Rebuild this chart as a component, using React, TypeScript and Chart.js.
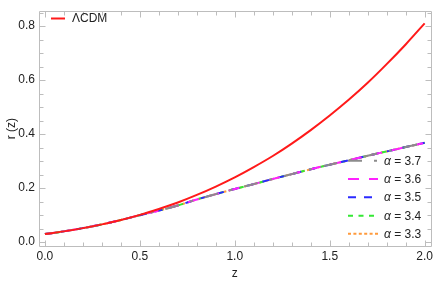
import React, { useEffect, useRef } from 'react';
import { Chart, registerables } from 'chart.js';

Chart.register(...registerables);

const zValues = [0.0, 0.1, 0.2, 0.3, 0.4, 0.5, 0.6, 0.7, 0.8, 0.9, 1.0, 1.1, 1.2, 1.3, 1.4, 1.5, 1.6, 1.7, 1.8, 1.9, 2.0];
const lcdm = [0.030, 0.040, 0.052, 0.066, 0.082, 0.101, 0.123, 0.147, 0.175, 0.206, 0.240, 0.278, 0.319, 0.365, 0.415, 0.469, 0.527, 0.590, 0.659, 0.732, 0.810];
const alpha37 = [0.030, 0.040, 0.052, 0.066, 0.082, 0.100, 0.117, 0.136, 0.158, 0.178, 0.197, 0.215, 0.234, 0.252, 0.270, 0.287, 0.303, 0.320, 0.336, 0.352, 0.368];
const alpha36 = [0.030, 0.040, 0.052, 0.066, 0.082, 0.100, 0.117, 0.136, 0.158, 0.178, 0.197, 0.215, 0.234, 0.252, 0.270, 0.287, 0.303, 0.320, 0.336, 0.352, 0.368];
const alpha35 = [0.030, 0.040, 0.052, 0.066, 0.082, 0.100, 0.117, 0.136, 0.158, 0.178, 0.197, 0.215, 0.234, 0.252, 0.270, 0.287, 0.303, 0.320, 0.336, 0.352, 0.368];
const alpha34 = [0.030, 0.040, 0.052, 0.066, 0.082, 0.100, 0.117, 0.136, 0.158, 0.178, 0.197, 0.215, 0.234, 0.252, 0.270, 0.287, 0.303, 0.320, 0.336, 0.352, 0.368];
const alpha33 = [0.030, 0.040, 0.052, 0.066, 0.082, 0.100, 0.117, 0.136, 0.158, 0.178, 0.197, 0.215, 0.234, 0.252, 0.270, 0.287, 0.303, 0.320, 0.336, 0.352, 0.368];

const xTicks = [0, 0.5, 1.0, 1.5, 2.0];
const yTicks = [0.0, 0.2, 0.4, 0.6, 0.8];
const xMinorStep = 0.1;
const yMinorStep = 0.05;

const lcdmLabel = 'ΛCDM';
const alphaValues = ['3.7', '3.6', '3.5', '3.4', '3.3'];
const alphaSeries = [alpha37, alpha36, alpha35, alpha34, alpha33];
const alphaColors = ['#8c8c8c', '#ff22ff', '#2b2bff', '#33e833', '#ff9a3c'];
const alphaDashes = [[14, 12, 3, 12], [11, 10], [8, 8], [5, 5.5], [3, 2.4]];

const FONT = '"Liberation Sans", Arial, sans-serif';
const TEXT = '#222222';
const FRAME = '#bdbdbd';

const framePlugin = {
  id: 'framePlugin',
  beforeDatasetsDraw(chart: any) {
    const { ctx, chartArea } = chart;
    const xs = chart.scales.x;
    const ys = chart.scales.y;
    const L = Math.round(chartArea.left) + 0.5;
    const R = Math.round(chartArea.right) - 0.5;
    const T = Math.round(chartArea.top) + 0.5;
    const B = Math.round(chartArea.bottom) + 0.5;
    ctx.save();
    ctx.strokeStyle = FRAME;
    ctx.lineWidth = 1;
    ctx.beginPath();
    ctx.rect(L, T, R - L, B - T);
    ctx.stroke();
    // x ticks
    for (let i = 0; i <= 20; i++) {
      const v = i * xMinorStep;
      const major = i % 5 === 0;
      const len = major ? 6 : 4;
      const px = Math.round(xs.getPixelForValue(v)) + 0.5;
      ctx.beginPath();
      ctx.moveTo(px, B); ctx.lineTo(px, B - len);
      ctx.moveTo(px, T); ctx.lineTo(px, T + len);
      ctx.stroke();
    }
    for (let i = 0; i <= 17; i++) {
      const v = i * yMinorStep;
      const major = i % 4 === 0;
      const len = major ? 6 : 4;
      const py = Math.round(ys.getPixelForValue(v)) + 0.5;
      ctx.beginPath();
      ctx.moveTo(L, py); ctx.lineTo(L + len, py);
      ctx.moveTo(R, py); ctx.lineTo(R - len, py);
      ctx.stroke();
    }
    ctx.restore();
  },
  afterDraw(chart: any) {
    const { ctx, chartArea } = chart;
    ctx.save();
    // axis titles
    ctx.fillStyle = TEXT;
    ctx.font = `12px ${FONT}`;
    ctx.textAlign = 'center';
    ctx.textBaseline = 'middle';
    ctx.fillText('z', chart.scales.x.getPixelForValue(1.0), 274);
    ctx.save();
    ctx.translate(12, (chartArea.top + chartArea.bottom) / 2);
    ctx.rotate(-Math.PI / 2);
    ctx.fillText('r (z)', 0, 0);
    ctx.restore();

    // LCDM legend
    ctx.lineWidth = 2;
    ctx.strokeStyle = '#ff1a1a';
    ctx.setLineDash([]);
    ctx.beginPath();
    ctx.moveTo(51, 18.5); ctx.lineTo(65, 18.5);
    ctx.stroke();
    ctx.textAlign = 'left';
    ctx.fillText(lcdmLabel, 72, 19);

    // alpha legend
    const rows = [160.7, 179, 197.3, 215.7, 233.7];
    alphaValues.forEach((val, i) => {
      const y = rows[i];
      ctx.strokeStyle = alphaColors[i];
      ctx.lineWidth = 2;
      ctx.setLineDash(alphaDashes[i]);
      ctx.lineDashOffset = 0;
      ctx.beginPath();
      ctx.moveTo(348, y); ctx.lineTo(378, y);
      ctx.stroke();
      ctx.setLineDash([]);
      ctx.font = `italic 12px ${FONT}`;
      ctx.fillText('α', 384, y + 0.5);
      const w = ctx.measureText('α').width;
      ctx.font = `12px ${FONT}`;
      ctx.fillText(' = ' + val, 384 + w, y + 0.5);
    });
    ctx.restore();
  },
};

export default function App() {
  const canvasRef = useRef<HTMLCanvasElement | null>(null);

  useEffect(() => {
    const canvas = canvasRef.current;
    if (!canvas) return;
    const datasets: any[] = [
      {
        label: lcdmLabel,
        data: zValues.map((z, i) => ({ x: z, y: lcdm[i] })),
        borderColor: '#ff1a1a',
        borderWidth: 2,
        pointRadius: 0,
        cubicInterpolationMode: 'monotone',
        fill: false,
      },
    ];
    alphaValues.forEach((val, i) => {
      datasets.push({
        label: 'α = ' + val,
        data: zValues.map((z, j) => ({ x: z, y: alphaSeries[i][j] })),
        borderColor: alphaColors[i],
        borderWidth: 2,
        borderDash: alphaDashes[i],
        pointRadius: 0,
        cubicInterpolationMode: 'monotone',
        fill: false,
      });
    });

    const chart = new Chart(canvas, {
      type: 'line',
      data: { datasets },
      options: {
        responsive: false,
        animation: false,
        devicePixelRatio: 1,
        layout: { padding: { top: 0, right: 1, bottom: 0, left: 0 } },
        plugins: { legend: { display: false }, tooltip: { enabled: false } },
        scales: {
          x: {
            type: 'linear',
            min: -0.0313,
            max: 2.0366,
            grid: { display: false, drawTicks: false },
            border: { display: false },
            afterBuildTicks: (s: any) => { s.ticks = xTicks.map((v) => ({ value: v })); },
            afterFit: (s: any) => { s.height = 35; },
            ticks: {
              padding: 3,
              maxRotation: 0,
              autoSkip: false,
              color: TEXT,
              font: { family: FONT, size: 12 },
              callback: (v: any) => Number(v).toFixed(1),
            },
          },
          y: {
            type: 'linear',
            min: -0.01413,
            max: 0.8551,
            grid: { display: false, drawTicks: false },
            border: { display: false },
            afterBuildTicks: (s: any) => { s.ticks = yTicks.map((v) => ({ value: v })); },
            afterFit: (s: any) => { s.width = 39; },
            ticks: {
              padding: 4,
              autoSkip: false,
              color: TEXT,
              font: { family: FONT, size: 12 },
              callback: (v: any) => Number(v).toFixed(1),
            },
          },
        },
      },
      plugins: [framePlugin],
    });
    return () => chart.destroy();
  }, []);

  return (
    <div style={{ position: 'absolute', left: 0, top: 0, width: 436, height: 281, background: '#fff' }}>
      <canvas ref={canvasRef} width={436} height={281} style={{ width: 436, height: 281, display: 'block' }} />
    </div>
  );
}
